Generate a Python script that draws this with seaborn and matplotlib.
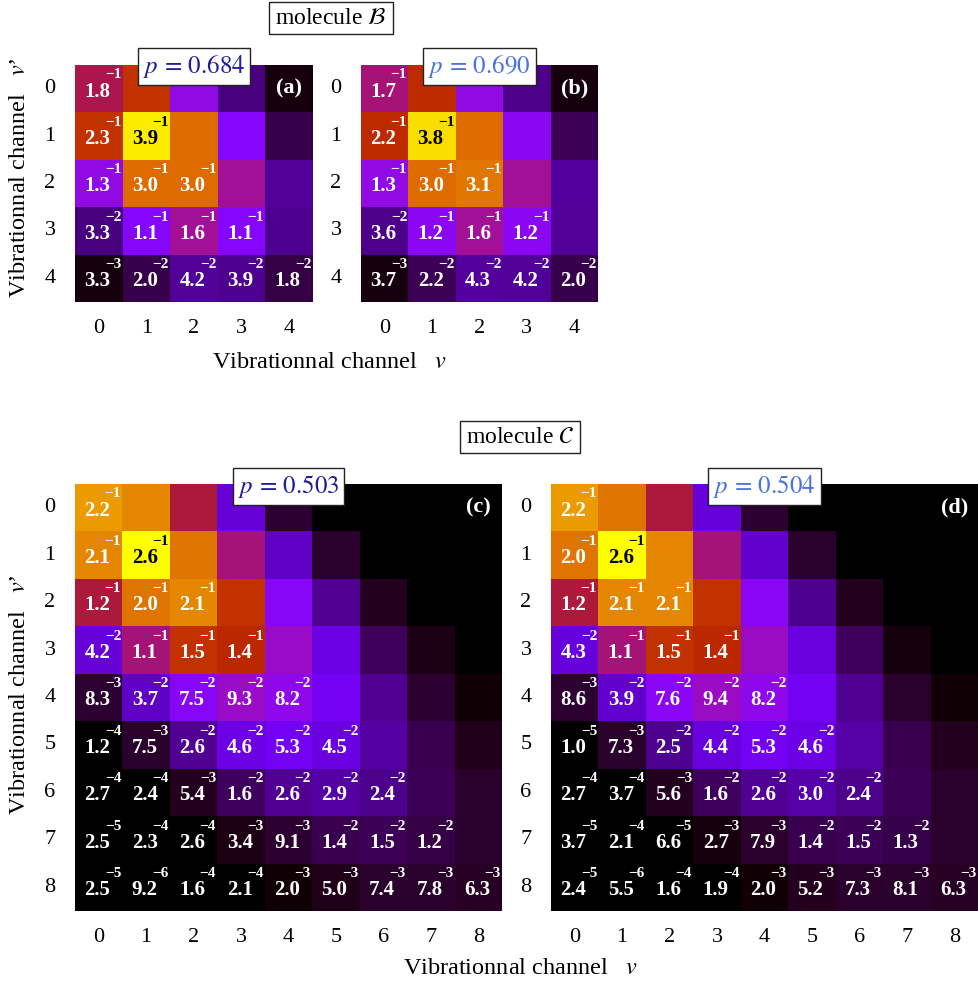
import numpy as np
import matplotlib
matplotlib.use("Agg")
import matplotlib.pyplot as plt
import seaborn as sns

# lower-triangle values (row v', columns v = 0..row)
mol_b_a = [
    [1.8e-1],
    [2.3e-1, 3.9e-1],
    [1.3e-1, 3.0e-1, 3.0e-1],
    [3.3e-2, 1.1e-1, 1.6e-1, 1.1e-1],
    [3.3e-3, 2.0e-2, 4.2e-2, 3.9e-2, 1.8e-2],
]
mol_b_b = [
    [1.7e-1],
    [2.2e-1, 3.8e-1],
    [1.3e-1, 3.0e-1, 3.1e-1],
    [3.6e-2, 1.2e-1, 1.6e-1, 1.2e-1],
    [3.7e-3, 2.2e-2, 4.3e-2, 4.2e-2, 2.0e-2],
]
mol_c_c = [
    [2.2e-1],
    [2.1e-1, 2.6e-1],
    [1.2e-1, 2.0e-1, 2.1e-1],
    [4.2e-2, 1.1e-1, 1.5e-1, 1.4e-1],
    [8.3e-3, 3.7e-2, 7.5e-2, 9.3e-2, 8.2e-2],
    [1.2e-4, 7.5e-3, 2.6e-2, 4.6e-2, 5.3e-2, 4.5e-2],
    [2.7e-4, 2.4e-4, 5.4e-3, 1.6e-2, 2.6e-2, 2.9e-2, 2.4e-2],
    [2.5e-5, 2.3e-4, 2.6e-4, 3.4e-3, 9.1e-3, 1.4e-2, 1.5e-2, 1.2e-2],
    [2.5e-5, 9.2e-6, 1.6e-4, 2.1e-4, 2.0e-3, 5.0e-3, 7.4e-3, 7.8e-3, 6.3e-3],
]
mol_c_d = [
    [2.2e-1],
    [2.0e-1, 2.6e-1],
    [1.2e-1, 2.1e-1, 2.1e-1],
    [4.3e-2, 1.1e-1, 1.5e-1, 1.4e-1],
    [8.6e-3, 3.9e-2, 7.6e-2, 9.4e-2, 8.2e-2],
    [1.0e-5, 7.3e-3, 2.5e-2, 4.4e-2, 5.3e-2, 4.6e-2],
    [2.7e-4, 3.7e-4, 5.6e-3, 1.6e-2, 2.6e-2, 3.0e-2, 2.4e-2],
    [3.7e-5, 2.1e-4, 6.6e-5, 2.7e-3, 7.9e-3, 1.4e-2, 1.5e-2, 1.3e-2],
    [2.4e-5, 5.5e-6, 1.6e-4, 1.9e-4, 2.0e-3, 5.2e-3, 7.3e-3, 8.1e-3, 6.3e-3],
]
p_values = ["0.684", "0.690", "0.503", "0.504"]
panel_tags = ["(a)", "(b)", "(c)", "(d)"]
p_colors = ["#1f1f99", "#4a72e0", "#1f1f99", "#4a72e0"]

plt.rcParams["font.family"] = "serif"
plt.rcParams["font.serif"] = ["Liberation Serif", "DejaVu Serif"]
plt.rcParams["mathtext.fontset"] = "stix"

W, H = 979, 984
fig = plt.figure(figsize=(W / 100, H / 100), dpi=100)


def box(l, t, r, b):
    return [l / W, 1 - b / H, (r - l) / W, (b - t) / H]


def full_matrix(rows):
    n = len(rows)
    m = np.zeros((n, n))
    for i, row in enumerate(rows):
        for j, v in enumerate(row):
            m[i, j] = v
            m[j, i] = v
    return m


cmap = plt.get_cmap("gnuplot")


def draw(ax, rows, vmax, k):
    m = full_matrix(rows)
    n = len(rows)
    sns.heatmap(m, ax=ax, cmap=cmap, vmin=0, vmax=vmax, cbar=False,
                xticklabels=range(n), yticklabels=range(n))
    ax.tick_params(length=0, labelsize=16)
    ax.tick_params(axis="y", pad=14, rotation=0)
    ax.tick_params(axis="x", pad=12)
    for i, row in enumerate(rows):
        for j, v in enumerate(row):
            mant, ex = f"{v:.1e}".split("e")
            ex = str(int(ex)).replace("-", "\u2212")
            # only the brightest (yellow) cell gets dark text
            col = "black" if v / vmax > 0.92 else "white"
            ax.text(j + 0.47, i + 0.56, mant, ha="center", va="center",
                    color=col, fontsize=15, fontweight="bold")
            ax.text(j + 0.8, i + 0.21, ex, ha="center", va="center",
                    color=col, fontsize=11, fontweight="bold")
    ax.text(n - 0.5, 0.5, panel_tags[k], ha="center", va="center",
            color="white", fontsize=16, fontweight="bold")
    ax.text(0.5, 0.995, rf"$p\,=\,{p_values[k]}$", transform=ax.transAxes,
            ha="center", va="center", fontsize=18, color=p_colors[k],
            bbox=dict(boxstyle="square,pad=0.2", fc="white", ec="#222222", lw=1))


ax_a = fig.add_axes(box(75, 65, 313, 302))
ax_b = fig.add_axes(box(361, 65, 598, 302))
ax_c = fig.add_axes(box(75, 484, 502, 911))
ax_d = fig.add_axes(box(551, 484, 978, 911))

draw(ax_a, mol_b_a, 0.40, 0)
draw(ax_b, mol_b_b, 0.40, 1)
draw(ax_c, mol_c_c, 0.26, 2)
draw(ax_d, mol_c_d, 0.26, 3)

title_box = dict(boxstyle="square,pad=0.25", fc="white", ec="#222222", lw=1)
fig.text(331 / W, 1 - 18 / H, r"molecule $\mathcal{B}$", ha="center", va="center",
         fontsize=17, bbox=title_box)
fig.text(520 / W, 1 - 437 / H, r"molecule $\mathcal{C}$", ha="center", va="center",
         fontsize=17, bbox=title_box)

xlab = r"Vibrationnal channel   $v$"
ylab = r"Vibrationnal channel   $v$’"
fig.text(329 / W, 1 - 362 / H, xlab, ha="center", va="center", fontsize=17.5)
fig.text(520 / W, 1 - 968 / H, xlab, ha="center", va="center", fontsize=17.5)
fig.text(20 / W, 1 - 178 / H, ylab, ha="center", va="center", rotation=90, fontsize=17.5)
fig.text(20 / W, 1 - 695 / H, ylab, ha="center", va="center", rotation=90, fontsize=17.5)

fig.savefig("out.png", dpi=100)
